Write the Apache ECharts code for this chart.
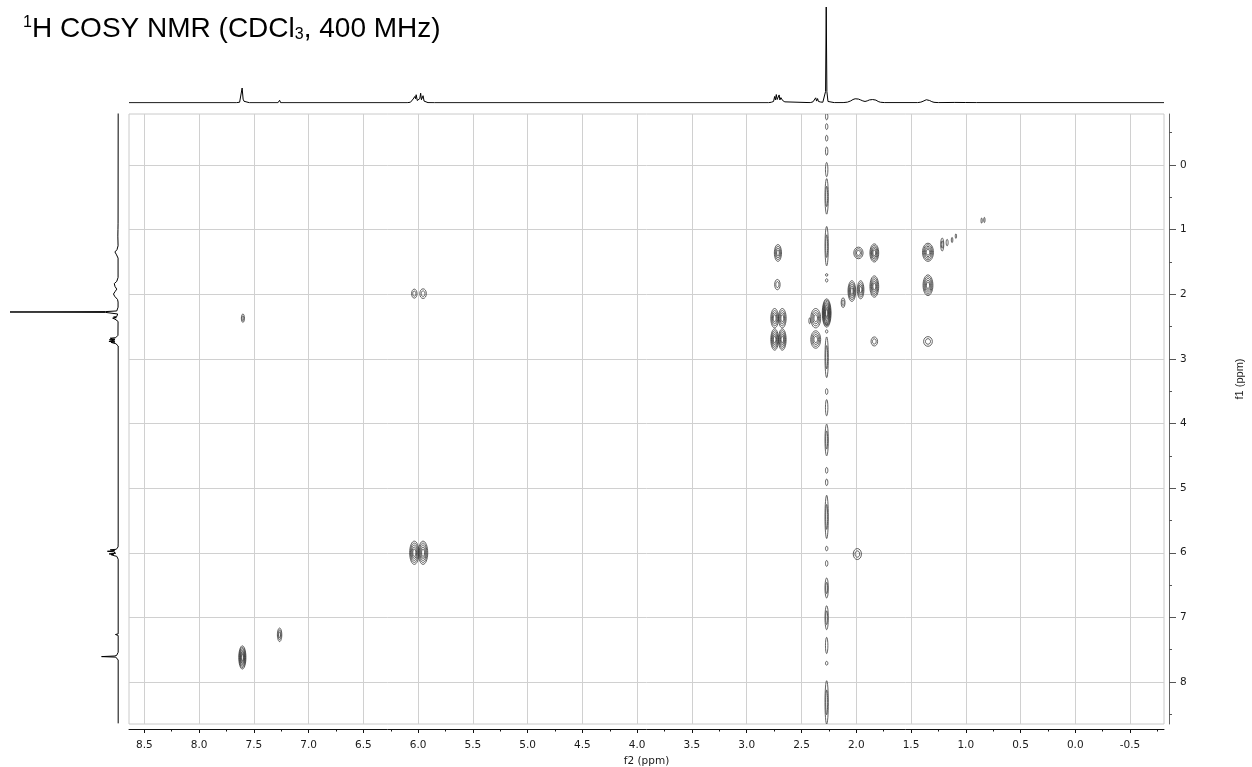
<!DOCTYPE html>
<html><head><meta charset="utf-8">
<script src="https://cdn.jsdelivr.net/npm/echarts@6/dist/echarts.min.js"></script>
<style>html,body{margin:0;padding:0;background:#fff}#c{width:1252px;height:767px}</style>
</head><body><div id="c"></div>
<script>
// ---- axis ticks (ppm) ----
const f2Ticks = [8.5, 8.0, 7.5, 7.0, 6.5, 6.0, 5.5, 5.0, 4.5, 4.0, 3.5, 3.0, 2.5, 2.0, 1.5, 1.0, 0.5, 0.0, -0.5];
const f2MinorTicks = [8.25, 7.75, 7.25, 6.75, 6.25, 5.75, 5.25, 4.75, 4.25, 3.75, 3.25, 2.75, 2.25, 1.75, 1.25, 0.75, 0.25, -0.25, -0.75];
const f1Ticks = [0, 1, 2, 3, 4, 5, 6, 7, 8];
const f1MinorTicks = [-0.5, 0.5, 1.5, 2.5, 3.5, 4.5, 5.5, 6.5, 7.5, 8.5];

// ---- 1D projection (ppm, relative intensity) ----
const projPpm = [8.64, 7.66, 7.63, 7.615, 7.607, 7.598, 7.59, 7.575, 7.54, 7.28, 7.265, 7.255,
  6.10, 6.07, 6.055, 6.045, 6.038, 6.03, 6.024, 6.018, 6.008, 5.995, 5.985, 5.977, 5.97, 5.962, 5.955, 5.946, 5.935, 5.91, 5.85,
  2.80, 2.775, 2.765, 2.755, 2.745, 2.738, 2.73, 2.722, 2.712, 2.704, 2.697, 2.688, 2.68, 2.672, 2.662, 2.652, 2.635,
  2.42, 2.395, 2.385, 2.378, 2.37, 2.362, 2.353, 2.345, 2.336, 2.325, 2.305, 2.29, 2.28, 2.274, 2.268, 2.258, 2.24, 2.2,
  2.12, 2.08, 2.05, 2.03, 2.01, 1.995, 1.98, 1.96, 1.94, 1.92, 1.90, 1.88, 1.865, 1.85, 1.835, 1.82, 1.80, 1.78, 1.74,
  1.44, 1.41, 1.39, 1.375, 1.36, 1.345, 1.33, 1.31, 1.29, 1.25, 1.1, 1.0, 0.9, -0.81];
const projInt = [0.3, 0.3, 0.8, 2.5, 15.6, 4, 1.8, 0.8, 0.3, 0.3, 2.8, 0.3,
  0.3, 0.8, 1.6, 4.2, 2.6, 6.8, 4.5, 8.6, 2.6, 2.2, 4.6, 10.2, 3.4, 4.2, 7.6, 2.0, 1.0, 0.4, 0.3,
  0.3, 0.8, 2.4, 1.6, 6.8, 3.2, 8.8, 3.6, 4.6, 8.4, 3.2, 5.6, 7.6, 2.6, 3.8, 1.2, 0.5,
  0.4, 1.2, 3.2, 1.8, 5.4, 2.0, 4.6, 1.6, 2.6, 1.0, 0.8, 1.6, 12, 100, 12, 1.6, 0.7, 0.4,
  0.4, 0.9, 2.2, 3.6, 4.4, 4.6, 4.1, 3.2, 2.2, 1.6, 2.2, 3.2, 3.8, 3.6, 3.9, 3.0, 1.6, 0.8, 0.4,
  0.4, 0.9, 1.8, 2.8, 3.4, 3.3, 2.6, 1.4, 0.7, 0.4, 0.6, 0.5, 0.4, 0.3];

// ---- 2D cross peaks: centre (f2, f1), extent in ppm (w2, w1), contour levels ----
const peakF2 = [7.605, 7.265, 7.60, 6.035, 5.955, 6.035, 5.955, 1.99, 2.715, 2.72, 2.745, 2.675, 2.745, 2.675, 2.37, 2.37, 2.27, 2.12, 2.04, 1.96, 1.835, 1.98, 1.835, 1.345, 1.345, 1.835, 1.345, 1.215, 1.17, 1.125, 1.09, 0.855, 0.83, 2.425];
const peakF1 = [7.62, 7.27, 2.37, 1.99, 1.99, 6.0, 6.0, 6.02, 1.36, 1.85, 2.37, 2.37, 2.70, 2.70, 2.37, 2.70, 2.29, 2.13, 1.95, 1.93, 1.88, 1.36, 1.36, 1.35, 1.86, 2.73, 2.73, 1.23, 1.20, 1.16, 1.10, 0.86, 0.85, 2.41];
const peakW2 = [0.065, 0.04, 0.028, 0.05, 0.06, 0.085, 0.085, 0.075, 0.065, 0.05, 0.07, 0.07, 0.07, 0.07, 0.09, 0.09, 0.08, 0.035, 0.07, 0.06, 0.08, 0.085, 0.08, 0.1, 0.09, 0.06, 0.08, 0.028, 0.018, 0.014, 0.012, 0.012, 0.012, 0.015];
const peakW1 = [0.36, 0.21, 0.13, 0.14, 0.15, 0.36, 0.36, 0.17, 0.26, 0.16, 0.3, 0.3, 0.33, 0.33, 0.3, 0.27, 0.44, 0.15, 0.32, 0.28, 0.33, 0.18, 0.28, 0.28, 0.32, 0.14, 0.15, 0.2, 0.1, 0.08, 0.07, 0.08, 0.08, 0.09];
const peakLevels = [7, 3, 2, 2, 2, 5, 5, 2, 4, 2, 4, 4, 5, 5, 4, 4, 9, 2, 5, 4, 5, 3, 5, 5, 5, 2, 2, 2, 1, 1, 1, 1, 1, 1];

// ---- t1-noise streak of the 2.27 ppm singlet (f1 ranges) ----
const streakF2 = 2.27;
const streakFrom = [-0.80, -0.64, -0.46, -0.28, -0.04, 0.21, 0.95, 1.68, 1.76, 2.44, 2.55, 2.66, 3.46, 3.63, 4.01, 4.68, 4.86, 5.11, 5.90, 6.12, 6.39, 6.82, 7.31, 7.68, 7.98];
const streakTo   = [-0.70, -0.55, -0.37, -0.15, 0.18, 0.76, 1.56, 1.72, 1.81, 2.48, 2.60, 3.29, 3.55, 3.88, 4.50, 4.77, 4.96, 5.78, 5.97, 6.21, 6.70, 7.19, 7.56, 7.74, 8.65];

const F2_MIN = -0.81, F2_MAX = 8.64, F1_MIN = -0.79, F1_MAX = 8.65;
const CONTOUR = '#3a3a3a';

const peakData = peakF2.map((v, i) => [v, peakF1[i], peakW2[i], peakW1[i], peakLevels[i]]);
const streakData = streakFrom.map((a, i) => {
  const len = streakTo[i] - a;
  return [streakF2, (a + streakTo[i]) / 2, len > 0.3 ? 0.03 : 0.022, len, len > 0.3 ? 2 : 1];
});

function renderEllipses(params, api) {
  const c = api.coord([api.value(0), api.value(1)]);
  const s = api.size([api.value(2), api.value(3)]);
  const n = api.value(4);
  const children = [];
  for (let k = 0; k < n; k++) {
    const f = 1 - (k / n) * 0.85;
    children.push({
      type: 'ellipse',
      shape: { cx: c[0], cy: c[1], rx: Math.max(0.6, s[0] / 2 * f), ry: Math.max(0.8, s[1] / 2 * f) },
      style: { fill: 'none', stroke: CONTOUR, lineWidth: 0.8 }
    });
  }
  return { type: 'group', children };
}

const chart = echarts.init(document.getElementById('c'), null, { renderer: 'canvas' });
const fmt1 = v => Number(v).toFixed(1);
chart.setOption({
  animation: false,
  backgroundColor: '#fff',
  title: {
    text: '{sup|1}H COSY NMR (CDCl{sub|3}, 400 MHz)',
    left: 18, top: 10,
    textStyle: {
      fontFamily: 'Liberation Sans', fontSize: 28, fontWeight: 'normal', color: '#000',
      rich: {
        sup: { fontFamily: 'Liberation Sans', fontSize: 16, verticalAlign: 'top', color: '#000' },
        sub: { fontFamily: 'Liberation Sans', fontSize: 16, verticalAlign: 'bottom', color: '#000' }
      }
    }
  },
  graphic: [{
    type: 'text', x: 1240, y: 379, rotation: Math.PI / 2,
    style: { text: 'f1 (ppm)', fontFamily: 'Liberation Sans', fontSize: 11, fill: '#1a1a1a', align: 'center', verticalAlign: 'middle' }
  }],
  grid: [
    { left: 129, top: 114, width: 1035, height: 610, show: true, borderColor: '#cacaca', borderWidth: 1, containLabel: false, outerBoundsMode: 'none' },
    { left: 129, top: 7, width: 1035, height: 96, containLabel: false, outerBoundsMode: 'none' },
    { left: 10, top: 114, width: 108.5, height: 610, containLabel: false, outerBoundsMode: 'none' }
  ],
  xAxis: [
    { gridIndex: 0, type: 'value', inverse: true, min: F2_MIN, max: F2_MAX, position: 'bottom', offset: 5,
      axisLine: { show: true, onZero: false, lineStyle: { color: '#111', width: 1 } },
      axisTick: { show: true, length: 4, customValues: f2Ticks, lineStyle: { color: '#111' } },
      axisLabel: { show: true, customValues: f2Ticks, formatter: fmt1, margin: 11, fontFamily: 'DejaVu Sans', fontSize: 10.5, color: '#1a1a1a' },
      splitLine: { show: true, lineStyle: { color: '#d0d0d0', width: 1 } },
      name: 'f2 (ppm)', nameLocation: 'middle', nameGap: 19,
      nameTextStyle: { fontFamily: 'DejaVu Sans', fontSize: 10.5, color: '#1a1a1a' } },
    { gridIndex: 0, type: 'value', inverse: true, min: F2_MIN, max: F2_MAX, position: 'bottom', offset: 5,
      axisLine: { show: false, onZero: false },
      axisTick: { show: true, length: 2.5, customValues: f2MinorTicks, lineStyle: { color: '#111' } },
      axisLabel: { show: false }, splitLine: { show: false } },
    { gridIndex: 1, type: 'value', inverse: true, min: F2_MIN, max: F2_MAX, show: false },
    { gridIndex: 2, type: 'value', inverse: true, min: 0, max: 100, show: false }
  ],
  yAxis: [
    { gridIndex: 0, type: 'value', inverse: true, min: F1_MIN, max: F1_MAX, position: 'right', offset: 5,
      axisLine: { show: true, onZero: false, lineStyle: { color: '#666', width: 1 } },
      axisTick: { show: true, length: 7, customValues: f1Ticks, lineStyle: { color: '#555' } },
      axisLabel: { show: true, customValues: f1Ticks, margin: 11, fontFamily: 'DejaVu Sans', fontSize: 10.5, color: '#1a1a1a' },
      splitLine: { show: true, lineStyle: { color: '#d0d0d0', width: 1 } } },
    { gridIndex: 0, type: 'value', inverse: true, min: F1_MIN, max: F1_MAX, position: 'right', offset: 5,
      axisLine: { show: false, onZero: false },
      axisTick: { show: true, length: 3, customValues: f1MinorTicks, lineStyle: { color: '#555' } },
      axisLabel: { show: false }, splitLine: { show: false } },
    { gridIndex: 1, type: 'value', min: 0, max: 100, show: false },
    { gridIndex: 2, type: 'value', inverse: true, min: F1_MIN, max: F1_MAX, show: false }
  ],
  series: [
    { type: 'custom', name: 'streak', xAxisIndex: 0, yAxisIndex: 0, clip: true, renderItem: renderEllipses, data: streakData, silent: true },
    { type: 'custom', name: 'cross peaks', xAxisIndex: 0, yAxisIndex: 0, clip: true, renderItem: renderEllipses, data: peakData, silent: true },
    { type: 'line', name: 'f2 projection', xAxisIndex: 2, yAxisIndex: 2, showSymbol: false, symbol: 'none',
      lineStyle: { color: '#000', width: 1 }, data: projPpm.map((p, i) => [p, projInt[i]]) },
    { type: 'line', name: 'f1 projection', xAxisIndex: 3, yAxisIndex: 3, showSymbol: false, symbol: 'none',
      lineStyle: { color: '#000', width: 1 }, data: projPpm.map((p, i) => [projInt[i], p]) }
  ]
});
</script>
</body></html>
